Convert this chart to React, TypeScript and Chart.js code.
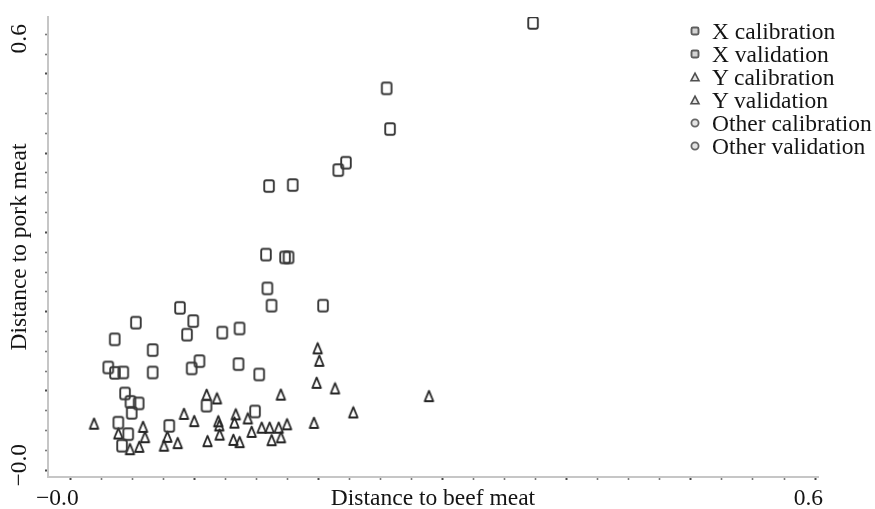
import React, { useEffect, useRef } from "react";
import { Chart, registerables } from "chart.js";

Chart.register(...registerables);

const SERIES_LABELS = [
  "X calibration",
  "X validation",
  "Y calibration",
  "Y validation",
  "Other calibration",
  "Other validation",
];

const X_TITLE = "Distance to beef meat";
const Y_TITLE = "Distance to pork meat";

// X (squares) — calibration
const X_CAL_X = [0.3727, 0.2574, 0.2219, 0.1599, 0.1790, 0.1574, 0.1756, 0.1586, 0.2034, 0.0881, 0.0526, 0.0938, 0.1361, 0.0355, 0.1038, 0.0975, 0.1520, 0.0303, 0.0424, 0.0661, 0.0438, 0.0548, 0.1095, 0.1486, 0.0384, 0.0464];
const X_CAL_Y = [0.6156, 0.4696, 0.4232, 0.3911, 0.3925, 0.2968, 0.2929, 0.2502, 0.2265, 0.2235, 0.2031, 0.1866, 0.1951, 0.1801, 0.1501, 0.1401, 0.1318, 0.1414, 0.1345, 0.1345, 0.1056, 0.0919, 0.0888, 0.0808, 0.0654, 0.0496];
// X (squares) — validation
const X_VAL_X = [0.2547, 0.2157, 0.1728, 0.1619, 0.0988, 0.1222, 0.0661, 0.1353, 0.0357, 0.0482, 0.0492, 0.0795, 0.0414];
const X_VAL_Y = [0.5256, 0.4131, 0.2929, 0.2265, 0.2052, 0.1894, 0.1653, 0.1460, 0.1340, 0.0941, 0.0789, 0.0610, 0.0337];

// Y (triangles) — calibration
const Y_CAL_X = [0.0188, 0.0384, 0.0583, 0.0478, 0.0752, 0.0779, 0.0913, 0.1096, 0.1190, 0.1103, 0.1331, 0.1428, 0.1311, 0.1540, 0.1677, 0.1694, 0.1620, 0.1991, 0.1983, 0.2278, 0.1961, 0.2888, 0.0553, 0.1201, 0.1459];
const Y_CAL_Y = [0.0640, 0.0505, 0.0596, 0.0289, 0.0337, 0.0459, 0.0775, 0.1037, 0.0672, 0.0399, 0.0768, 0.0712, 0.0417, 0.0585, 0.0585, 0.1040, 0.0413, 0.1676, 0.1202, 0.0795, 0.0651, 0.1019, 0.0321, 0.0489, 0.0527];
// Y (triangles) — validation
const Y_VAL_X = [0.0599, 0.0863, 0.0996, 0.1179, 0.1198, 0.1320, 0.1362, 0.1604, 0.1744, 0.1695, 0.2004, 0.2131];
const Y_VAL_Y = [0.0454, 0.0372, 0.0675, 0.0987, 0.0616, 0.0654, 0.0386, 0.0585, 0.0631, 0.0452, 0.1505, 0.1125];

// Other — no visible points
const O_CAL_X: number[] = [];
const O_CAL_Y: number[] = [];
const O_VAL_X: number[] = [];
const O_VAL_Y: number[] = [];

const X_MIN = -0.0183;
const X_MAX = 0.6024;
const Y_MIN = -0.0094;
const Y_MAX = 0.6238;

const X_TICKS = [0, 0.025, 0.05, 0.075, 0.1, 0.125, 0.15, 0.175, 0.2, 0.225, 0.25, 0.275, 0.3, 0.325, 0.35, 0.375, 0.4, 0.425, 0.45, 0.475, 0.5, 0.525, 0.55, 0.575, 0.6];
const Y_TICKS = [0, 0.02727, 0.05455, 0.08182, 0.10909, 0.13636, 0.16364, 0.19091, 0.21818, 0.24545, 0.27273, 0.3, 0.32727, 0.35455, 0.38182, 0.40909, 0.43636, 0.46364, 0.49091, 0.51818, 0.54545, 0.57273, 0.6];

const X_LABEL_VALUES = [0, 0.6];
const X_LABEL_TEXTS = ["\u22120.0", "0.6"];
const Y_LABEL_VALUES = [0, 0.6];
const Y_LABEL_TEXTS = ["\u22120.0", "0.6"];

const FONT = '"Liberation Serif", "Times New Roman", serif';
const FONT_SIZE = 23.5;
const TEXT_COLOR = "#141414";

function pts(xs: number[], ys: number[]) {
  return xs.map((x, i) => ({ x, y: ys[i] }));
}

function roundRectPath(g: CanvasRenderingContext2D, x: number, y: number, w: number, h: number, r: number) {
  g.beginPath();
  g.moveTo(x + r, y);
  g.lineTo(x + w - r, y);
  g.arcTo(x + w, y, x + w, y + r, r);
  g.lineTo(x + w, y + h - r);
  g.arcTo(x + w, y + h, x + w - r, y + h, r);
  g.lineTo(x + r, y + h);
  g.arcTo(x, y + h, x, y + h - r, r);
  g.lineTo(x, y + r);
  g.arcTo(x, y, x + r, y, r);
  g.closePath();
}

function makeSquare() {
  const c = document.createElement("canvas");
  c.width = 14;
  c.height = 16;
  const g = c.getContext("2d")!;
  g.strokeStyle = "#383838";
  g.lineWidth = 1.9;
  roundRectPath(g, 2.2, 2.2, 9.6, 11.6, 2);
  g.stroke();
  return c;
}

function makeTriangle() {
  const c = document.createElement("canvas");
  c.width = 13;
  c.height = 14;
  const g = c.getContext("2d")!;
  g.strokeStyle = "#262626";
  g.lineWidth = 1.8;
  g.lineJoin = "round";
  g.beginPath();
  g.moveTo(6.5, 1.6);
  g.lineTo(10.8, 12);
  g.lineTo(2.2, 12);
  g.closePath();
  g.stroke();
  return c;
}

function makeCircle() {
  const c = document.createElement("canvas");
  c.width = 13;
  c.height = 13;
  const g = c.getContext("2d")!;
  g.strokeStyle = "#444444";
  g.lineWidth = 1.7;
  g.beginPath();
  g.arc(6.5, 6.5, 4.3, 0, Math.PI * 2);
  g.stroke();
  return c;
}

const endLabels = {
  id: "endLabels",
  afterDraw(chart: any) {
    const { ctx } = chart;
    const xs = chart.scales.x;
    const ys = chart.scales.y;
    ctx.save();
    ctx.font = `${FONT_SIZE}px ${FONT}`;
    ctx.fillStyle = TEXT_COLOR;
    ctx.textBaseline = "middle";
    ctx.textAlign = "right";
    X_LABEL_VALUES.forEach((v, i) => {
      ctx.fillText(X_LABEL_TEXTS[i], xs.getPixelForValue(v) + 8, xs.bottom - 10);
    });
    ctx.textAlign = "center";
    Y_LABEL_VALUES.forEach((v, i) => {
      const nudge = v === Y_LABEL_VALUES[0] ? -5 : 4.5;
      ctx.save();
      ctx.translate(ys.left + 12, ys.getPixelForValue(v) + nudge);
      ctx.rotate(-Math.PI / 2);
      ctx.fillText(Y_LABEL_TEXTS[i], 0, 0);
      ctx.restore();
    });
    ctx.restore();
  },
};

function LegendMarker({ kind }: { kind: string }) {
  if (kind === "square") {
    return (
      <svg width={12} height={12} style={{ display: "block" }}>
        <rect x={2.5} y={2.5} width={7} height={7} rx={1.5} fill="#d4d4d4" stroke="#5e5e5e" strokeWidth={1.9} />
      </svg>
    );
  }
  if (kind === "triangle") {
    return (
      <svg width={12} height={12} style={{ display: "block" }}>
        <polygon points="6,2.2 10,9.8 2,9.8" fill="#e4e4e4" stroke="#505050" strokeWidth={1.6} />
      </svg>
    );
  }
  return (
    <svg width={12} height={12} style={{ display: "block" }}>
      <circle cx={6} cy={6} r={3.6} fill="#e4e4e4" stroke="#666666" strokeWidth={1.8} />
    </svg>
  );
}

const LEGEND_KINDS = ["square", "square", "triangle", "triangle", "circle", "circle"];

export default function App() {
  const canvasRef = useRef<HTMLCanvasElement | null>(null);

  useEffect(() => {
    if (!canvasRef.current) return;
    const sq = makeSquare();
    const tri = makeTriangle();
    const cir = makeCircle();

    const major = (c: any) => c.index % 4 === 0;

    const chart = new Chart(canvasRef.current, {
      type: "scatter",
      data: {
        datasets: [
          { label: SERIES_LABELS[0], data: pts(X_CAL_X, X_CAL_Y), pointStyle: sq as any, pointRadius: 6 },
          { label: SERIES_LABELS[1], data: pts(X_VAL_X, X_VAL_Y), pointStyle: sq as any, pointRadius: 6 },
          { label: SERIES_LABELS[2], data: pts(Y_CAL_X, Y_CAL_Y), pointStyle: tri as any, pointRadius: 6 },
          { label: SERIES_LABELS[3], data: pts(Y_VAL_X, Y_VAL_Y), pointStyle: tri as any, pointRadius: 6 },
          { label: SERIES_LABELS[4], data: pts(O_CAL_X, O_CAL_Y), pointStyle: cir as any, pointRadius: 6 },
          { label: SERIES_LABELS[5], data: pts(O_VAL_X, O_VAL_Y), pointStyle: cir as any, pointRadius: 6 },
        ],
      },
      options: {
        animation: false,
        responsive: false,
        events: [],
        layout: { padding: { left: 8, top: 17, right: 57, bottom: 0 } },
        plugins: {
          legend: { display: false },
          tooltip: { enabled: false },
        },
        scales: {
          x: {
            type: "linear",
            min: X_MIN,
            max: X_MAX,
            afterBuildTicks: (s: any) => {
              s.ticks = X_TICKS.map((v) => ({ value: v }));
            },
            ticks: { display: false },
            grid: {
              drawOnChartArea: false,
              drawTicks: true,
              tickLength: 3,
              tickWidth: (c: any) => (major(c) ? 2 : 1.6),
              tickColor: (c: any) => (major(c) ? "#4a4a4a" : "#7a7a7a"),
            },
            border: { display: true, color: "#c6c6c6", width: 2 },
            title: {
              display: true,
              text: X_TITLE,
              color: TEXT_COLOR,
              font: { family: FONT, size: FONT_SIZE, lineHeight: 0.85 },
              padding: { top: 9, bottom: 0 },
            },
          },
          y: {
            type: "linear",
            min: Y_MIN,
            max: Y_MAX,
            afterBuildTicks: (s: any) => {
              s.ticks = Y_TICKS.map((v) => ({ value: v }));
            },
            ticks: { display: false },
            grid: {
              drawOnChartArea: false,
              drawTicks: true,
              tickLength: 3,
              tickWidth: (c: any) => (major(c) ? 2 : 1.6),
              tickColor: (c: any) => (major(c) ? "#4a4a4a" : "#7a7a7a"),
            },
            border: { display: true, color: "#c6c6c6", width: 2 },
            title: {
              display: true,
              text: Y_TITLE,
              color: TEXT_COLOR,
              font: { family: FONT, size: FONT_SIZE, lineHeight: 0.85 },
              padding: { top: 2, bottom: 15 },
            },
          },
        },
      },
      plugins: [endLabels],
    });
    return () => chart.destroy();
  }, []);

  return (
    <div style={{ position: "absolute", left: 0, top: 0, width: 875, height: 509, background: "#ffffff" }}>
      <canvas ref={canvasRef} width={875} height={509} style={{ display: "block", width: 875, height: 509 }} />
      <div
        style={{
          position: "absolute",
          left: 689,
          top: 19.5,
          fontFamily: FONT,
          fontSize: FONT_SIZE,
          color: TEXT_COLOR,
          lineHeight: "23px",
          whiteSpace: "nowrap",
        }}
      >
        {SERIES_LABELS.map((label, i) => (
          <div key={label} style={{ display: "flex", alignItems: "center", height: 23 }}>
            <div style={{ width: 12, marginRight: 11 }}>
              <LegendMarker kind={LEGEND_KINDS[i]} />
            </div>
            <span>{label}</span>
          </div>
        ))}
      </div>
    </div>
  );
}
